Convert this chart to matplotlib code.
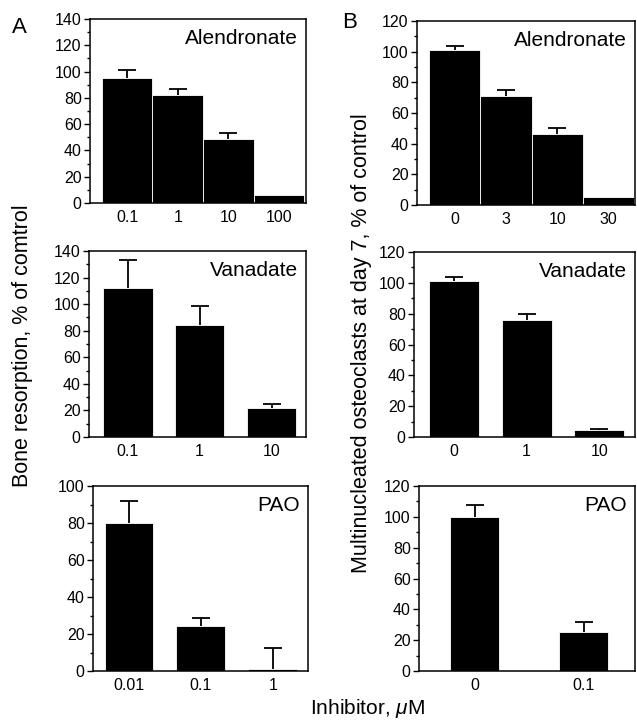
import matplotlib as mpl
mpl.use('Agg')
import matplotlib.pyplot as plt
from matplotlib.ticker import MultipleLocator

plt.rcParams['font.family'] = ['Liberation Sans', 'DejaVu Sans']
plt.rcParams['mathtext.fontset'] = 'custom'
plt.rcParams['mathtext.it'] = 'Liberation Sans:italic'
plt.rcParams['mathtext.rm'] = 'Liberation Sans'

# panel A: bone resorption, % of control
a_alen_labels = ['0.1', '1', '10', '100']
a_alen_mean = [95, 82, 49, 6]
a_alen_err = [6, 5, 4, 0]

a_van_labels = ['0.1', '1', '10']
a_van_mean = [112, 84, 22]
a_van_err = [21, 15, 3]

a_pao_labels = ['0.01', '0.1', '1']
a_pao_mean = [80, 24.5, 1]
a_pao_err = [12, 4, 11.5]

# panel B: multinucleated osteoclasts at day 7, % of control
b_alen_labels = ['0', '3', '10', '30']
b_alen_mean = [101, 71, 46, 5]
b_alen_err = [2.5, 4, 4, 0]

b_van_labels = ['0', '1', '10']
b_van_mean = [101, 76, 4.5]
b_van_err = [2.5, 4, 0.5]

b_pao_labels = ['0', '0.1']
b_pao_mean = [100, 25]
b_pao_err = [8, 7]

fig = plt.figure(figsize=(6.37, 7.22), dpi=100)


def panel(rect, labels, mean, err, ymax, width, xlim, title):
    ax = fig.add_axes(rect)
    x = list(range(len(labels)))
    ax.bar(x, mean, width=width, color='black', edgecolor='white', linewidth=0.6, zorder=2)
    # upper error only, one cap; skip bars without an error value
    keep = [i for i in x if err[i] > 0]
    _, caps, _ = ax.errorbar([x[i] for i in keep], [mean[i] for i in keep],
                             yerr=[[0] * len(keep), [err[i] for i in keep]],
                             fmt='none', ecolor='black',
                             elinewidth=1.3, capsize=6.5, capthick=1.3, zorder=1)
    caps[0].set_visible(False)
    ax.set_xlim(*xlim)
    ax.set_ylim(0, ymax)
    ax.set_xticks(x)
    ax.set_xticklabels(labels)
    ax.yaxis.set_major_locator(MultipleLocator(20))
    ax.yaxis.set_minor_locator(MultipleLocator(10))
    ax.tick_params(axis='x', length=0, pad=5, labelsize=11.5)
    ax.tick_params(axis='y', which='major', length=4, width=1, pad=2, labelsize=11.5, direction='out')
    ax.tick_params(axis='y', which='minor', length=2, width=1, direction='out')
    for s in ax.spines.values():
        s.set_linewidth(1.1)
    ax.annotate(title, xy=(1, 1), xycoords='axes fraction', xytext=(-6, -7),
                textcoords='offset points', ha='right', va='top', fontsize=15)
    return ax


panel([0.1413, 0.7188, 0.3391, 0.2548], a_alen_labels, a_alen_mean, a_alen_err,
      140, 1.0, (-0.73, 3.53), 'Alendronate')
panel([0.1397, 0.3947, 0.3407, 0.2576], a_van_labels, a_van_mean, a_van_err,
      140, 0.69, (-0.54, 2.48), 'Vanadate')
panel([0.146, 0.0706, 0.3375, 0.2562], a_pao_labels, a_pao_mean, a_pao_err,
      100, 0.68, (-0.5, 2.49), 'PAO')

panel([0.6546, 0.7161, 0.3422, 0.2548], b_alen_labels, b_alen_mean, b_alen_err,
      120, 1.0, (-0.73, 3.51), 'Alendronate')
panel([0.6499, 0.3947, 0.3469, 0.2562], b_van_labels, b_van_mean, b_van_err,
      120, 0.69, (-0.55, 2.49), 'Vanadate')
panel([0.6578, 0.0706, 0.3391, 0.2562], b_pao_labels, b_pao_mean, b_pao_err,
      120, 0.45, (-0.51, 1.47), 'PAO')

fig.text(12 / 637, 1 - 17 / 722, 'A', fontsize=16, ha='left', va='top')
fig.text(342 / 637, 1 - 12 / 722, 'B', fontsize=16, ha='left', va='top')
fig.text(23 / 637, 1 - 346 / 722, 'Bone resorption, % of comtrol', rotation=90,
         fontsize=15.5, ha='center', va='center')
fig.text(362 / 637, 1 - 343 / 722, 'Multinucleated osteoclasts at day 7, % of control',
         rotation=90, fontsize=15.5, ha='center', va='center')
fig.text(368 / 637, 1 - 709 / 722, r'Inhibitor, $\mu$M', fontsize=15, ha='center', va='center')

plt.savefig('out.png', dpi=100)
